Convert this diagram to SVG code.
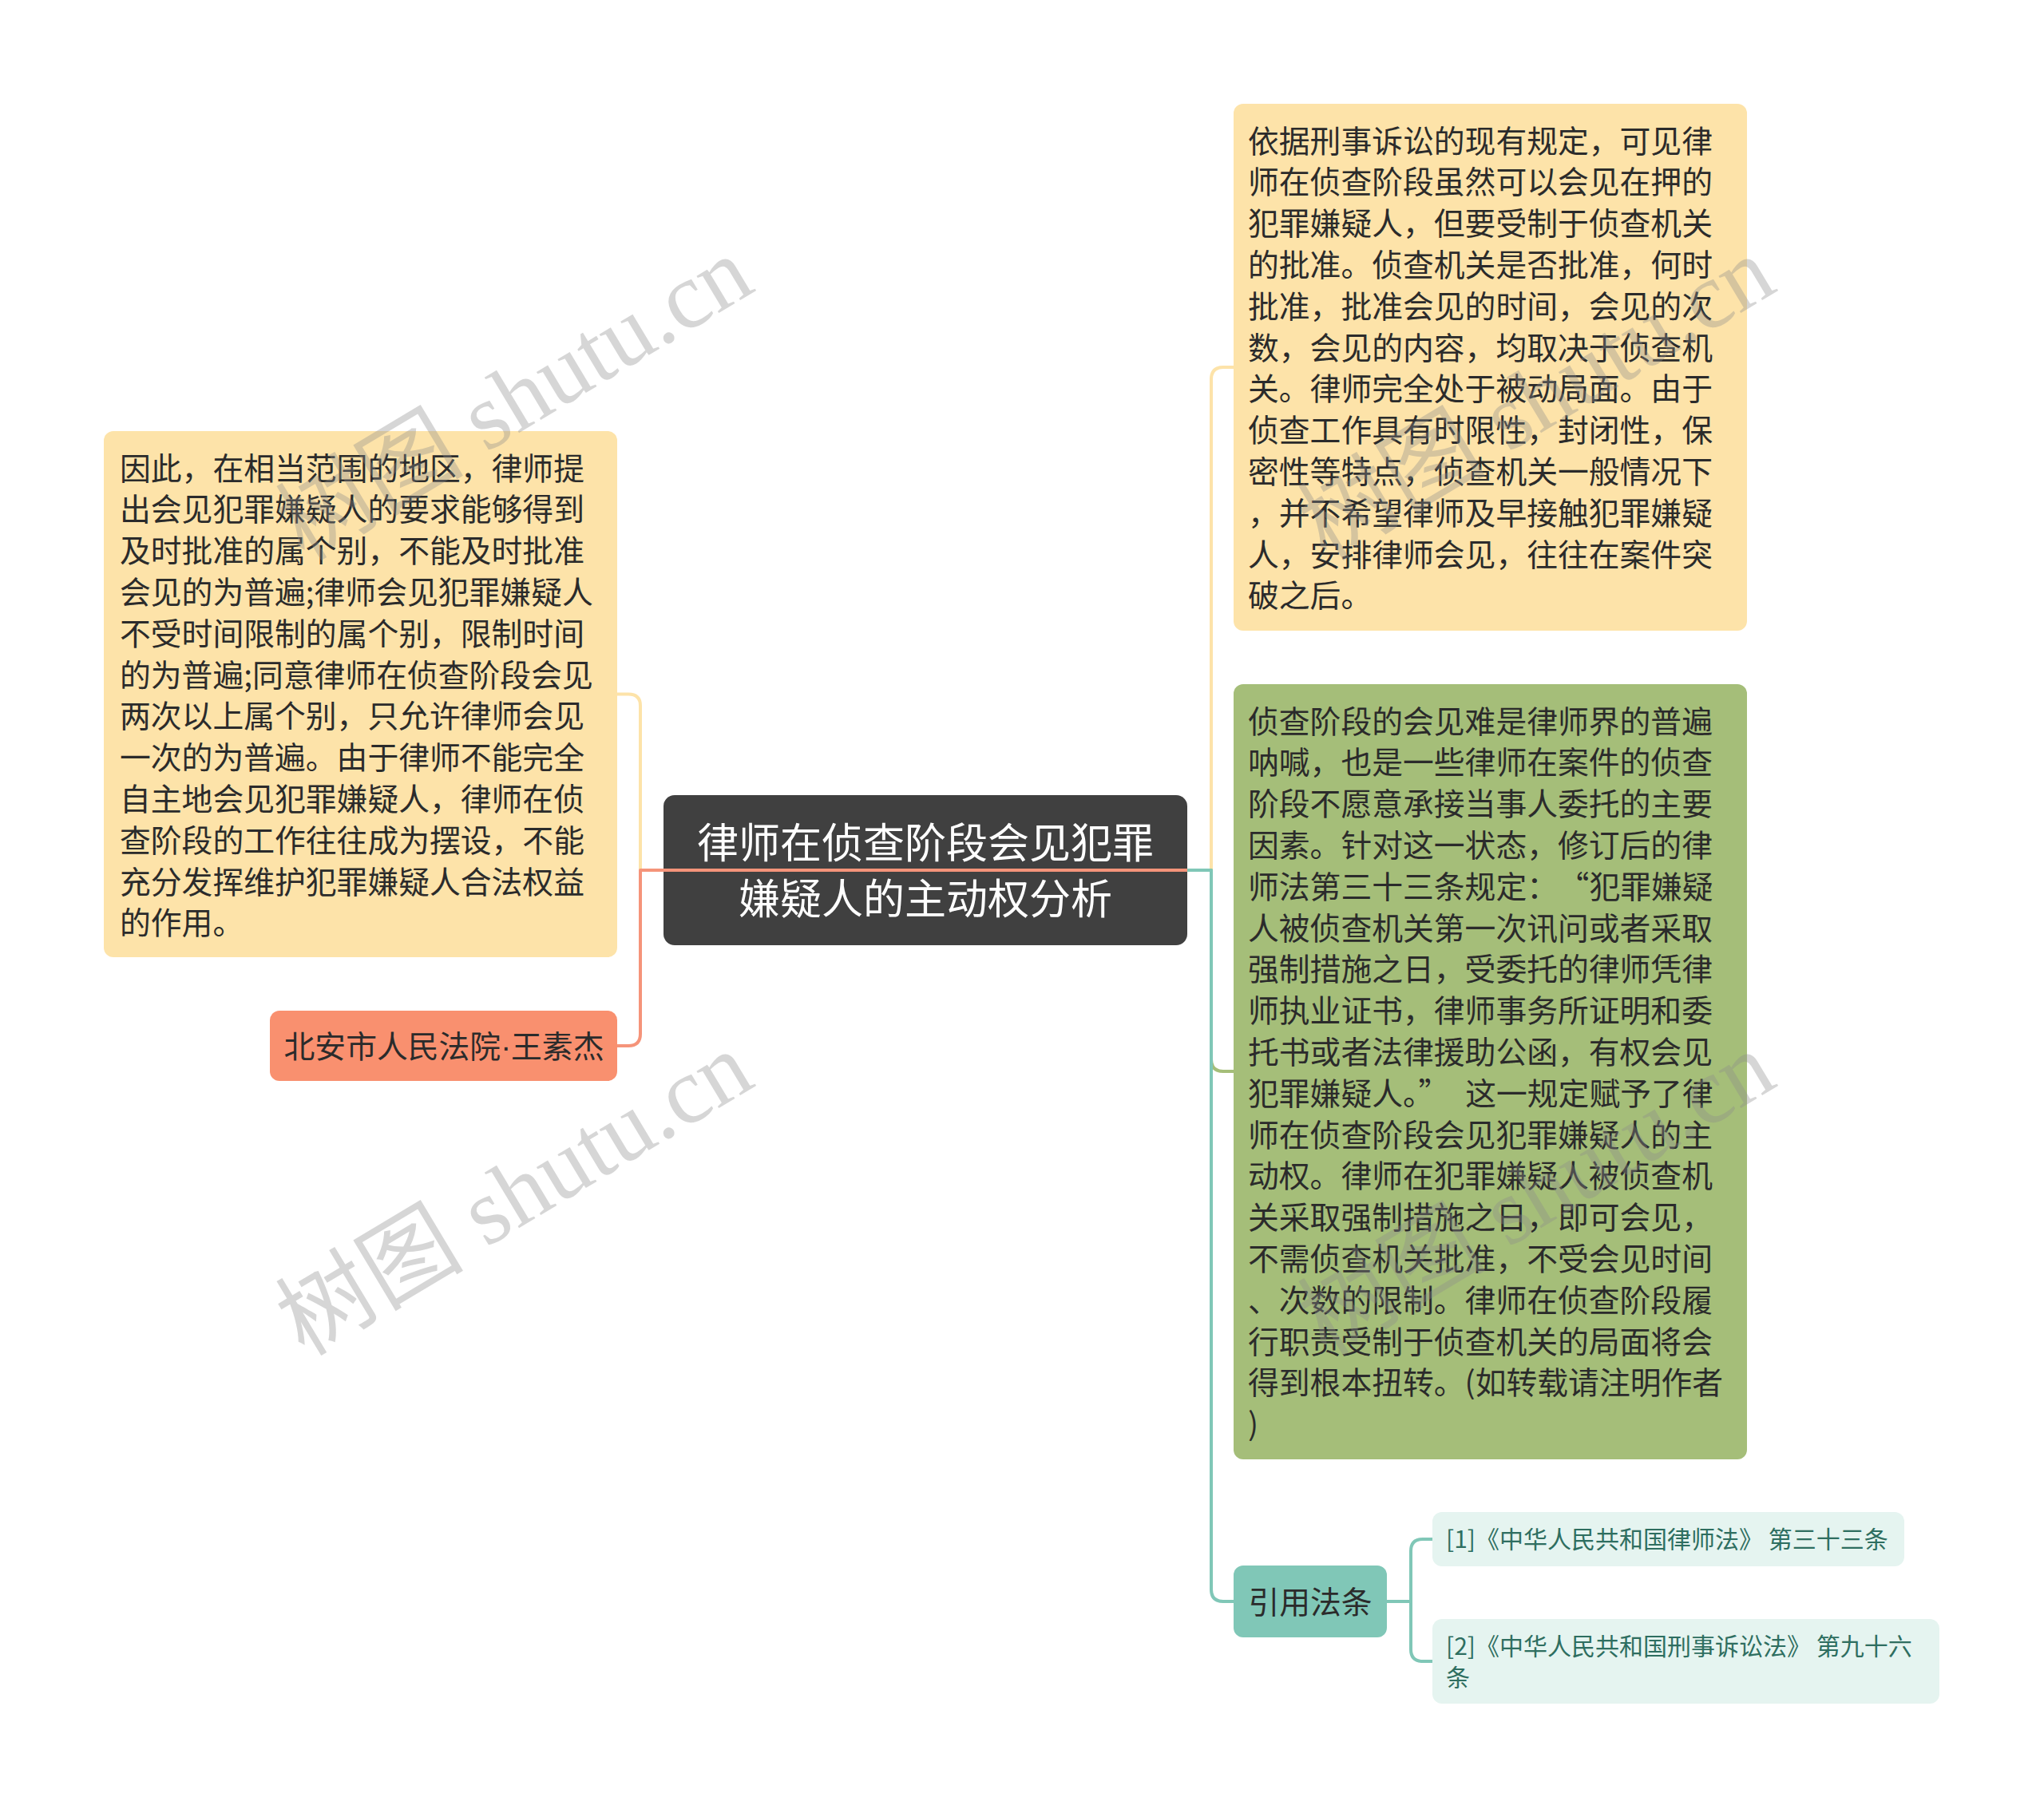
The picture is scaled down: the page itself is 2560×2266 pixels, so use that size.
<svg xmlns="http://www.w3.org/2000/svg" width="2560" height="2266" viewBox="0 0 2560 2266">
<style>
.t{font-family:"Noto Sans CJK SC","Noto Sans",sans-serif;font-size:38.8px;fill:#2b2b2b}
.c{font-family:"Noto Sans CJK SC","Noto Sans",sans-serif;font-size:52px;fill:#ffffff}
.r{font-family:"Noto Sans CJK SC","Noto Sans",sans-serif;font-size:30px;fill:#2e6e60}
.dot{font-family:"Liberation Sans",sans-serif}
.e{fill:none;stroke-width:4;stroke-linejoin:round}
.wm{font-family:"Liberation Serif","Noto Sans CJK SC",serif;font-size:118px;fill:#8c8c8c;opacity:0.35}
</style>
<rect x="0" y="0" width="2560" height="2266" fill="#ffffff"/>
<g id="node-left-text">
<rect x="130" y="540" width="643" height="659" rx="12" fill="#fde3a9"/>
<text class="t" x="150" y="600.6"><tspan x="150">因此，在相当范围的地区，律师提</tspan><tspan x="150" dy="51.8">出会见犯罪嫌疑人的要求能够得到</tspan><tspan x="150" dy="51.8">及时批准的属个别，不能及时批准</tspan><tspan x="150" dy="51.8">会见的为普遍;律师会见犯罪嫌疑人</tspan><tspan x="150" dy="51.8">不受时间限制的属个别，限制时间</tspan><tspan x="150" dy="51.8">的为普遍;同意律师在侦查阶段会见</tspan><tspan x="150" dy="51.8">两次以上属个别，只允许律师会见</tspan><tspan x="150" dy="51.8">一次的为普遍。由于律师不能完全</tspan><tspan x="150" dy="51.8">自主地会见犯罪嫌疑人，律师在侦</tspan><tspan x="150" dy="51.8">查阶段的工作往往成为摆设，不能</tspan><tspan x="150" dy="51.8">充分发挥维护犯罪嫌疑人合法权益</tspan><tspan x="150" dy="51.8">的作用。</tspan></text>
</g>
<g id="node-author">
<rect x="338" y="1266" width="435" height="88" rx="12" fill="#f9906f"/>
<text class="t" x="556" y="1324.6" text-anchor="middle">北安市人民法院<tspan class="dot">·</tspan>王素杰</text>
</g>
<g id="node-center">
<rect x="831" y="996" width="656" height="188" rx="14" fill="#404040"/>
<text class="c" x="1159" y="1075" text-anchor="middle">律师在侦查阶段会见犯罪</text>
<text class="c" x="1159" y="1145" text-anchor="middle">嫌疑人的主动权分析</text>
</g>
<g id="node-right-top">
<rect x="1545" y="130" width="643" height="660" rx="12" fill="#fde3a9"/>
<text class="t" x="1563" y="190.6"><tspan x="1563">依据刑事诉讼的现有规定，可见律</tspan><tspan x="1563" dy="51.8">师在侦查阶段虽然可以会见在押的</tspan><tspan x="1563" dy="51.8">犯罪嫌疑人，但要受制于侦查机关</tspan><tspan x="1563" dy="51.8">的批准。侦查机关是否批准，何时</tspan><tspan x="1563" dy="51.8">批准，批准会见的时间，会见的次</tspan><tspan x="1563" dy="51.8">数，会见的内容，均取决于侦查机</tspan><tspan x="1563" dy="51.8">关。律师完全处于被动局面。由于</tspan><tspan x="1563" dy="51.8">侦查工作具有时限性，封闭性，保</tspan><tspan x="1563" dy="51.8">密性等特点，侦查机关一般情况下</tspan><tspan x="1563" dy="51.8">，并不希望律师及早接触犯罪嫌疑</tspan><tspan x="1563" dy="51.8">人，安排律师会见，往往在案件突</tspan><tspan x="1563" dy="51.8">破之后。</tspan></text>
</g>
<g id="node-right-green">
<rect x="1545" y="857" width="643" height="971" rx="12" fill="#a5be79"/>
<text class="t" x="1563" y="917.6"><tspan x="1563">侦查阶段的会见难是律师界的普遍</tspan><tspan x="1563" dy="51.8">呐喊，也是一些律师在案件的侦查</tspan><tspan x="1563" dy="51.8">阶段不愿意承接当事人委托的主要</tspan><tspan x="1563" dy="51.8">因素。针对这一状态，修订后的律</tspan><tspan x="1563" dy="51.8">师法第三十三条规定：</tspan><tspan dx="20">“犯罪嫌疑</tspan><tspan x="1563" dy="51.8">人被侦查机关第一次讯问或者采取</tspan><tspan x="1563" dy="51.8">强制措施之日，受委托的律师凭律</tspan><tspan x="1563" dy="51.8">师执业证书，律师事务所证明和委</tspan><tspan x="1563" dy="51.8">托书或者法律援助公函，有权会见</tspan><tspan x="1563" dy="51.8">犯罪嫌疑人。”</tspan><tspan dx="20">这一规定赋予了律</tspan><tspan x="1563" dy="51.8">师在侦查阶段会见犯罪嫌疑人的主</tspan><tspan x="1563" dy="51.8">动权。律师在犯罪嫌疑人被侦查机</tspan><tspan x="1563" dy="51.8">关采取强制措施之日，即可会见，</tspan><tspan x="1563" dy="51.8">不需侦查机关批准，不受会见时间</tspan><tspan x="1563" dy="51.8">、次数的限制。律师在侦查阶段履</tspan><tspan x="1563" dy="51.8">行职责受制于侦查机关的局面将会</tspan><tspan x="1563" dy="51.8">得到根本扭转。(如转载请注明作者</tspan><tspan x="1563" dy="51.8">)</tspan></text>
</g>
<g id="node-cite">
<rect x="1545" y="1961" width="192" height="90" rx="12" fill="#80c7b7"/>
<text class="t" x="1641" y="2020.6" text-anchor="middle">引用法条</text>
</g>
<g id="node-ref1">
<rect x="1794" y="1894" width="591" height="68" rx="12" fill="#e5f4f0"/>
<text class="r" x="1811" y="1939.4">[1]《中华人民共和国律师法》 第三十三条</text>
</g>
<g id="node-ref2">
<rect x="1794" y="2028" width="635" height="106" rx="12" fill="#e5f4f0"/>
<text class="r" x="1811" y="2073.4"><tspan x="1811">[2]《中华人民共和国刑事诉讼法》 第九十六</tspan><tspan x="1811" dy="39">条</tspan></text>
</g>
<g id="connectors">
<path class="e" stroke="#fde3a9" d="M1487,1090 H802 V884 Q802,869.5 787,869.5 H773"/>
<path class="e" stroke="#f5947a" d="M1487,1090 H802 V1295 Q802,1310 787,1310 H773"/>
<path class="e" stroke="#fde3a9" d="M1487,1090 H1517 V475 Q1517,460 1532,460 H1545"/>
<path class="e" stroke="#a5be79" d="M1487,1090 H1517 V1327 Q1517,1342 1532,1342 H1545"/>
<path class="e" stroke="#80c7b7" d="M1487,1090 H1517 V1991 Q1517,2006 1532,2006 H1545"/>
<path class="e" stroke="#80c7b7" d="M1737,2006 H1767 V1943 Q1767,1928 1782,1928 H1794"/>
<path class="e" stroke="#80c7b7" d="M1737,2006 H1767 V2066 Q1767,2081 1782,2081 H1794"/>
</g>
<g id="watermarks">
<text class="wm" x="381" y="704" transform="rotate(-31 381 704)">树图 shutu.cn</text>
<text class="wm" x="381" y="1700" transform="rotate(-31 381 1700)">树图 shutu.cn</text>
<text class="wm" x="1661" y="704" transform="rotate(-31 1661 704)">树图 shutu.cn</text>
<text class="wm" x="1661" y="1700" transform="rotate(-31 1661 1700)">树图 shutu.cn</text>
</g>
</svg>
